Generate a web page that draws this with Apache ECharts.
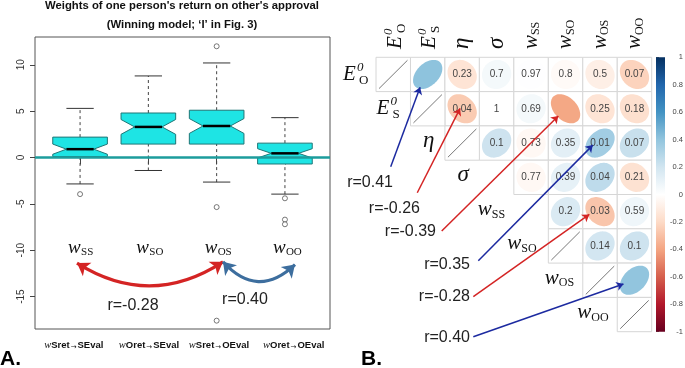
<!DOCTYPE html>
<html><head><meta charset="utf-8">
<script src="https://cdn.jsdelivr.net/npm/echarts@6/dist/echarts.min.js"></script>
<style>html,body{margin:0;padding:0;background:#fff}#c{width:685px;height:368px}</style>
</head><body><div id="c"></div>
<script>
// ================= DATA =================
// Panel A: boxplots of weights
const boxNames = ['SS', 'SO', 'OS', 'OO'];
const boxAxisLabels = [['S', 'S'], ['O', 'S'], ['S', 'O'], ['O', 'O']]; // wXret -> YEval
const lowerWhisker = [-2.85, -1.4, -2.65, -3.95];
const lowerHinge   = [0.1, 1.45, 1.45, -0.7];
const medians      = [0.9, 3.3, 3.4, 0.45];
const upperHinge   = [2.2, 4.8, 5.1, 1.55];
const upperWhisker = [5.3, 8.8, 10.2, 4.3];
const notchHalf    = [0.55, 0.8, 0.8, 0.5];
const outliers     = [[1, -3.95], [3, 12.0], [3, -5.35], [3, -17.6], [4, -4.4], [4, -6.7], [4, -7.2]];
const yTicksA      = [-15, -10, -5, 0, 5, 10];
const arcLinks     = [{ from: 3, to: 1, r: -0.28 }, { from: 4, to: 3, r: 0.40 }];

// Panel B: correlation matrix (upper triangle), r values and p-value texts
const varKeys = ['E0O', 'E0S', 'eta', 'sigma', 'wSS', 'wSO', 'wOS', 'wOO'];
const corrR = [
  [null, 0.41, -0.15, 0.05, 0.005, -0.03, -0.09, -0.23],
  [null, null, -0.26, 0.0, 0.05, -0.39, -0.15, -0.17],
  [null, null, null, 0.21, -0.04, 0.12, 0.35, 0.23],
  [null, null, null, null, -0.04, 0.11, 0.26, -0.16],
  [null, null, null, null, null, 0.16, -0.28, 0.07],
  [null, null, null, null, null, null, 0.19, 0.21],
  [null, null, null, null, null, null, null, 0.40],
  [null, null, null, null, null, null, null, null]
];
const pText = [
  ['', '', '0.23', '0.7', '0.97', '0.8', '0.5', '0.07'],
  ['', '', '0.04', '1', '0.69', '', '0.25', '0.18'],
  ['', '', '', '0.1', '0.73', '0.35', '0.01', '0.07'],
  ['', '', '', '', '0.77', '0.39', '0.04', '0.21'],
  ['', '', '', '', '', '0.2', '0.03', '0.59'],
  ['', '', '', '', '', '', '0.14', '0.1'],
  ['', '', '', '', '', '', '', ''],
  ['', '', '', '', '', '', '', '']
];
const diagRows = [0, 1, 2, 5, 6, 7];
const highlighted = [[0, 1], [1, 2], [1, 5], [2, 6], [4, 6], [6, 7]];
const colorbarRange = [-1, 1];
const colorbarTicks = [-1, -0.8, -0.6, -0.4, -0.2, 0, 0.2, 0.4, 0.6, 0.8, 1];

// ================= STYLE / LAYOUT =================
const SANS = '"Liberation Sans", Arial, sans-serif';
const SERIF = '"Liberation Serif", "DejaVu Serif", serif';
const RED = '#d42424', BLUE = '#1c2aa0';
const pal = ["#67001F","#B2182B","#D6604D","#F4A582","#FDDBC7","#FFFFFF","#D1E5F0","#92C5DE","#4393C3","#2166AC","#053061"];
function hex(c){return [parseInt(c.slice(1,3),16),parseInt(c.slice(3,5),16),parseInt(c.slice(5,7),16)];}
function colorOf(r){
  const t = (r + 1) / 2 * 10; const i = Math.max(0, Math.min(9, Math.floor(t))); const f = t - i;
  const a = hex(pal[i]), b = hex(pal[i+1]);
  return 'rgb(' + a.map((v,k)=>Math.round(v + (b[k]-v)*f)).join(',') + ')';
}
// math-like labels: [text, italic?, size, dx, dy]
const labelParts = {
  E0O: [['E',1,21,0,0],['0',1,13,14,-7],['O',0,13,16,6]],
  E0S: [['E',1,21,0,0],['0',1,13,14,-7],['S',0,13,16,6]],
  eta: [['η',1,23,0,-2]],
  sigma: [['σ',1,23,0,-2]],
  wSS: [['w',1,21,0,-2],['SS',0,12,14,3]],
  wSO: [['w',1,21,0,-2],['SO',0,12,14,3]],
  wOS: [['w',1,21,0,-2],['OS',0,12,14,3]],
  wOO: [['w',1,21,0,-2],['OO',0,12,14,3]]
};
const rowLabelOffset = [-33, -34, -22, -22, -36, -41, -38, -40];
function partEls(parts, x0, y0, scale) {
  scale = scale || 1;
  return parts.map(p => ({
    type: 'text', x: x0 + p[3]*scale, y: y0 + p[4]*scale,
    style: { text: p[0], fontFamily: SERIF, fontStyle: p[1] ? 'italic' : 'normal',
      fontSize: p[2]*scale, fill: '#111', align: 'left', verticalAlign: 'middle' }
  }));
}
// arrow geometry (cell-relative tip offsets, label anchors) in matrix units
const arrowTipOffset = [[-0.22, 0.375], [-0.06, -0.01], [-0.21, 0.21], [-0.21, 0.06], [-0.31, 0.08], [-0.32, 0.11]];
const arrowStart = [[0.427, 3.19], [1.198, 3.948], [1.907, 5.064], [2.969, 5.93], [2.824, 6.98], [2.824, 8.146]];
const rLabelAnchor = [[0.493, 3.656], [1.277, 4.423], [1.741, 5.085], [2.728, 6.055], [2.728, 6.988], [2.728, 8.175]];

const chart = echarts.init(document.getElementById('c'));

const boxData = boxNames.map((n, i) => [i + 1, lowerWhisker[i], lowerHinge[i], medians[i], upperHinge[i], upperWhisker[i], notchHalf[i]]);
const xLabelPos = [0.908, 2.009, 3.034, 4.128];

const cellData = [];
corrR.forEach((row, i) => row.forEach((r, j) => { if (r !== null) cellData.push([j, i, r, pText[i][j]]); }));

const option = {
  animation: false,
  backgroundColor: '#fff',
  grid: [
    { left: 35, top: 37, width: 295, height: 292, show: true, borderColor: '#555', borderWidth: 1, backgroundColor: 'transparent' },
    { left: 376, top: 57.3, width: 275.7, height: 274.4, show: false },
    { left: 656, top: 57.3, width: 9, height: 274.4, show: false }
  ],
  xAxis: [
    { gridIndex: 0, type: 'value', min: 0.34, max: 4.66, splitLine: { show: false }, axisLine: { show: false },
      axisTick: { show: true, customValues: [1, 2, 3, 4], length: 7, lineStyle: { color: '#444' } },
      axisLabel: { customValues: xLabelPos, margin: 11,
        formatter: v => { const i = xLabelPos.findIndex(p => Math.abs(p - v) < 1e-6); if (i < 0) return '';
          const L = boxAxisLabels[i]; return '{w|w}{b|' + L[0] + 'ret}{a|→}{b|' + L[1] + 'Eval}'; },
        rich: { w: { fontFamily: SERIF, fontStyle: 'italic', fontSize: 10.5, color: '#111' },
                b: { fontFamily: SANS, fontWeight: 'bold', fontSize: 9.5, color: '#111' },
                a: { fontFamily: 'DejaVu Sans', fontSize: 7, color: '#111', padding: [3, 1, 0, 1] } } } },
    { gridIndex: 1, type: 'value', min: 0, max: 8, show: false },
    { gridIndex: 2, type: 'value', min: 0, max: 1, show: false }
  ],
  yAxis: [
    { gridIndex: 0, type: 'value', min: -18.5, max: 13, splitLine: { show: false }, axisLine: { show: false },
      axisTick: { show: true, customValues: yTicksA, length: 5, lineStyle: { color: '#444' } },
      axisLabel: { customValues: yTicksA, rotate: 90, fontSize: 10, color: '#333', fontFamily: SANS, margin: 9 } },
    { gridIndex: 1, type: 'value', min: 0, max: 8, inverse: true, show: false },
    { gridIndex: 2, type: 'value', min: -1, max: 1, position: 'right', splitLine: { show: false },
      axisLine: { show: false }, axisTick: { show: true, length: 3, customValues: colorbarTicks, lineStyle: { color: '#666' } },
      axisLabel: { show: false } }
  ],
  graphic: [
    { type: 'text', x: 182, y: 6, style: { text: "Weights of one person's return on other's approval", font: 'bold 11.3px ' + SANS, fill: '#111', align: 'center', verticalAlign: 'middle' } },
    { type: 'text', x: 182, y: 25, style: { text: '(Winning model; ‘I’ in Fig. 3)', font: 'bold 11.3px ' + SANS, fill: '#111', align: 'center', verticalAlign: 'middle' } },
    { type: 'text', x: 0, y: 359, style: { text: 'A.', font: 'bold 21px ' + SANS, fill: '#000', align: 'left', verticalAlign: 'middle' } },
    { type: 'text', x: 361, y: 359, style: { text: 'B.', font: 'bold 21px ' + SANS, fill: '#000', align: 'left', verticalAlign: 'middle' } }
  ],
  series: [
    // notched boxes
    { type: 'custom', xAxisIndex: 0, yAxisIndex: 0, data: boxData, z: 2,
      renderItem: (params, api) => {
        const x = api.value(0), lw = api.value(1), a = api.value(2), m = api.value(3), b = api.value(4), uw = api.value(5), n = api.value(6);
        const hw = 0.4, qw = 0.2, cw = 0.2;
        const P = (xx, yy) => api.coord([xx, yy]);
        const poly = [[x-hw,a],[x-hw,m-n],[x-qw,m],[x-hw,m+n],[x-hw,b],[x+hw,b],[x+hw,m+n],[x+qw,m],[x+hw,m-n],[x+hw,a]].map(p => P(p[0], p[1]));
        const ln = (p1, p2, st) => ({ type: 'line', shape: { x1: p1[0], y1: p1[1], x2: p2[0], y2: p2[1] }, style: st });
        const dash = { stroke: '#444', lineWidth: 1, lineDash: [3, 3] };
        const solid = { stroke: '#333', lineWidth: 1 };
        return { type: 'group', children: [
          ln(P(x, b), P(x, uw), dash), ln(P(x, lw), P(x, a), dash),
          ln(P(x-cw, uw), P(x+cw, uw), solid), ln(P(x-cw, lw), P(x+cw, lw), solid),
          { type: 'polygon', shape: { points: poly }, style: { fill: '#1ee4e4', stroke: '#1f7676', lineWidth: 1 } },
          ln(P(x-qw, m), P(x+qw, m), { stroke: '#000', lineWidth: 2.5 })
        ] };
      } },
    // outliers + zero line
    { type: 'scatter', xAxisIndex: 0, yAxisIndex: 0, data: outliers, symbol: 'circle', symbolSize: 5, z: 3,
      itemStyle: { color: '#fff', borderColor: '#444', borderWidth: 0.9 },
      markLine: { silent: true, symbol: ['none', 'none'], data: [{ yAxis: 0 }], label: { show: false },
        lineStyle: { color: '#1d9c9c', width: 2.5, type: 'solid' } } },
    // w labels in panel A
    { type: 'custom', xAxisIndex: 0, yAxisIndex: 0, data: boxNames.map((n, i) => [i + 1, -10.0]), z: 4,
      renderItem: (params, api) => {
        const p = api.coord([api.value(0), api.value(1)]);
        const n = boxNames[params.dataIndex];
        return { type: 'group', children: partEls([['w',1,19,0,-2],[n,0,11,13,2]], p[0] - 12, p[1]) };
      } },
    // arcs panel A
    { type: 'lines', coordinateSystem: 'cartesian2d', xAxisIndex: 0, yAxisIndex: 0, z: 5, symbol: ['arrow', 'arrow'], symbolSize: 12,
      data: [
        { coords: [[3.093, -11.25], [0.955, -11.39]], lineStyle: { color: RED, width: 3.2, curveness: 0.32, opacity: 1 } },
        { coords: [[4.147, -11.55], [3.093, -11.25]], lineStyle: { color: '#3d6e9e', width: 3.2, curveness: 0.51, opacity: 1 } }
      ] },
    // r labels panel A
    { type: 'custom', xAxisIndex: 0, yAxisIndex: 0, data: [[1.775, -15.97, arcLinks[0].r], [3.415, -15.35, arcLinks[1].r]], z: 5,
      renderItem: (params, api) => {
        const p = api.coord([api.value(0), api.value(1)]);
        return { type: 'text', x: p[0], y: p[1], style: { text: 'r=' + api.value(2).toFixed(2), fontFamily: SANS, fontSize: 16, fill: '#222', align: 'center', verticalAlign: 'middle' } };
      } },
    // ===== panel B cells =====
    { type: 'custom', xAxisIndex: 1, yAxisIndex: 1, data: cellData, z: 2,
      renderItem: (params, api) => {
        const j = api.value(0), i = api.value(1), r = api.value(2);
        const t = cellData[params.dataIndex][3];
        const tl = api.coord([j, i]), br = api.coord([j + 1, i + 1]);
        const d = Math.acos(r) / 2; const pts = [];
        for (let k = 0; k < 72; k++) { const a = 2 * Math.PI * k / 72;
          pts.push(api.coord([j + 0.5 + Math.cos(a + d) / 2 * 0.85, i + 0.5 - Math.cos(a - d) / 2 * 0.85])); }
        const ch = [
          { type: 'rect', shape: { x: tl[0], y: tl[1], width: br[0] - tl[0], height: br[1] - tl[1] }, style: { fill: '#fff', stroke: '#d6d6d6', lineWidth: 1 } },
          { type: 'polygon', shape: { points: pts }, style: { fill: colorOf(r), stroke: null } }
        ];
        if (t) ch.push({ type: 'text', x: (tl[0] + br[0]) / 2, y: (tl[1] + br[1]) / 2, style: { text: t, fontFamily: SANS, fontSize: 10, fill: '#444', align: 'center', verticalAlign: 'middle' } });
        return { type: 'group', children: ch };
      } },
    // diagonal cells
    { type: 'custom', xAxisIndex: 1, yAxisIndex: 1, data: diagRows.map(i => [i, i]), z: 2,
      renderItem: (params, api) => {
        const i = api.value(0);
        const tl = api.coord([i, i]), br = api.coord([i + 1, i + 1]);
        return { type: 'group', children: [
          { type: 'rect', shape: { x: tl[0], y: tl[1], width: br[0] - tl[0], height: br[1] - tl[1] }, style: { fill: '#fff', stroke: '#d6d6d6', lineWidth: 1 } },
          { type: 'line', shape: { x1: tl[0] + 3, y1: br[1] - 3, x2: br[0] - 3, y2: tl[1] + 3 }, style: { stroke: '#555', lineWidth: 0.8 } }
        ] };
      } },
    // row labels
    { type: 'custom', xAxisIndex: 1, yAxisIndex: 1, data: varKeys.map((k, i) => [i, i + 0.5]), z: 3,
      renderItem: (params, api) => {
        const i = params.dataIndex;
        const p = api.coord([api.value(0), api.value(1)]);
        return { type: 'group', children: partEls(labelParts[varKeys[i]], p[0] + rowLabelOffset[i], p[1]) };
      } },
    // column headers
    { type: 'custom', xAxisIndex: 1, yAxisIndex: 1, data: varKeys.map((k, i) => [i + 0.5, -0.24]), z: 3,
      renderItem: (params, api) => {
        const i = params.dataIndex;
        const p = api.coord([api.value(0), api.value(1)]);
        return { type: 'group', x: p[0], y: p[1], rotation: Math.PI / 2, children: partEls(labelParts[varKeys[i]], 0, 2) };
      } },
    // arrows panel B
    { type: 'lines', coordinateSystem: 'cartesian2d', xAxisIndex: 1, yAxisIndex: 1, z: 6, clip: false,
      symbol: ['none', 'arrow'], symbolSize: 7,
      data: highlighted.map((c, k) => ({ coords: [arrowStart[k], [c[1] + 0.5 + arrowTipOffset[k][0], c[0] + 0.5 + arrowTipOffset[k][1]]],
        lineStyle: { color: corrR[c[0]][c[1]] > 0 ? BLUE : RED, width: 1.5, curveness: 0, opacity: 1 } })) },
    // r labels panel B
    { type: 'custom', xAxisIndex: 1, yAxisIndex: 1, z: 6, clip: false,
      data: highlighted.map((c, k) => [rLabelAnchor[k][0], rLabelAnchor[k][1], corrR[c[0]][c[1]]]),
      renderItem: (params, api) => {
        const p = api.coord([api.value(0), api.value(1)]);
        return { type: 'text', x: p[0], y: p[1], style: { text: 'r=' + api.value(2).toFixed(2), fontFamily: SANS, fontSize: 16, fill: '#222', align: 'right', verticalAlign: 'middle' } };
      } },
    // colorbar
    { type: 'custom', xAxisIndex: 2, yAxisIndex: 2, data: [colorbarRange], z: 2,
      renderItem: (params, api) => {
        const a = api.coord([0, api.value(1)]), b = api.coord([1, api.value(0)]);
        const stops = pal.slice().reverse().map((c, k) => ({ offset: k / 10, color: c }));
        return { type: 'rect', shape: { x: a[0], y: a[1], width: b[0] - a[0], height: b[1] - a[1] },
          style: { fill: new echarts.graphic.LinearGradient(0, 0, 0, 1, stops) } };
      } },
    // colorbar labels
    { type: 'custom', xAxisIndex: 2, yAxisIndex: 2, data: colorbarTicks.map(v => [1, v]), z: 3, clip: false,
      renderItem: (params, api) => {
        const p = api.coord([api.value(0), api.value(1)]);
        const v = Math.round(api.value(1) * 10) / 10;
        return { type: 'text', x: p[0] + 18, y: p[1], style: { text: String(v), fontFamily: SANS, fontSize: 7.5, fill: '#444', align: 'right', verticalAlign: 'middle' } };
      } }
  ]
};
chart.setOption(option);
</script></body></html>
